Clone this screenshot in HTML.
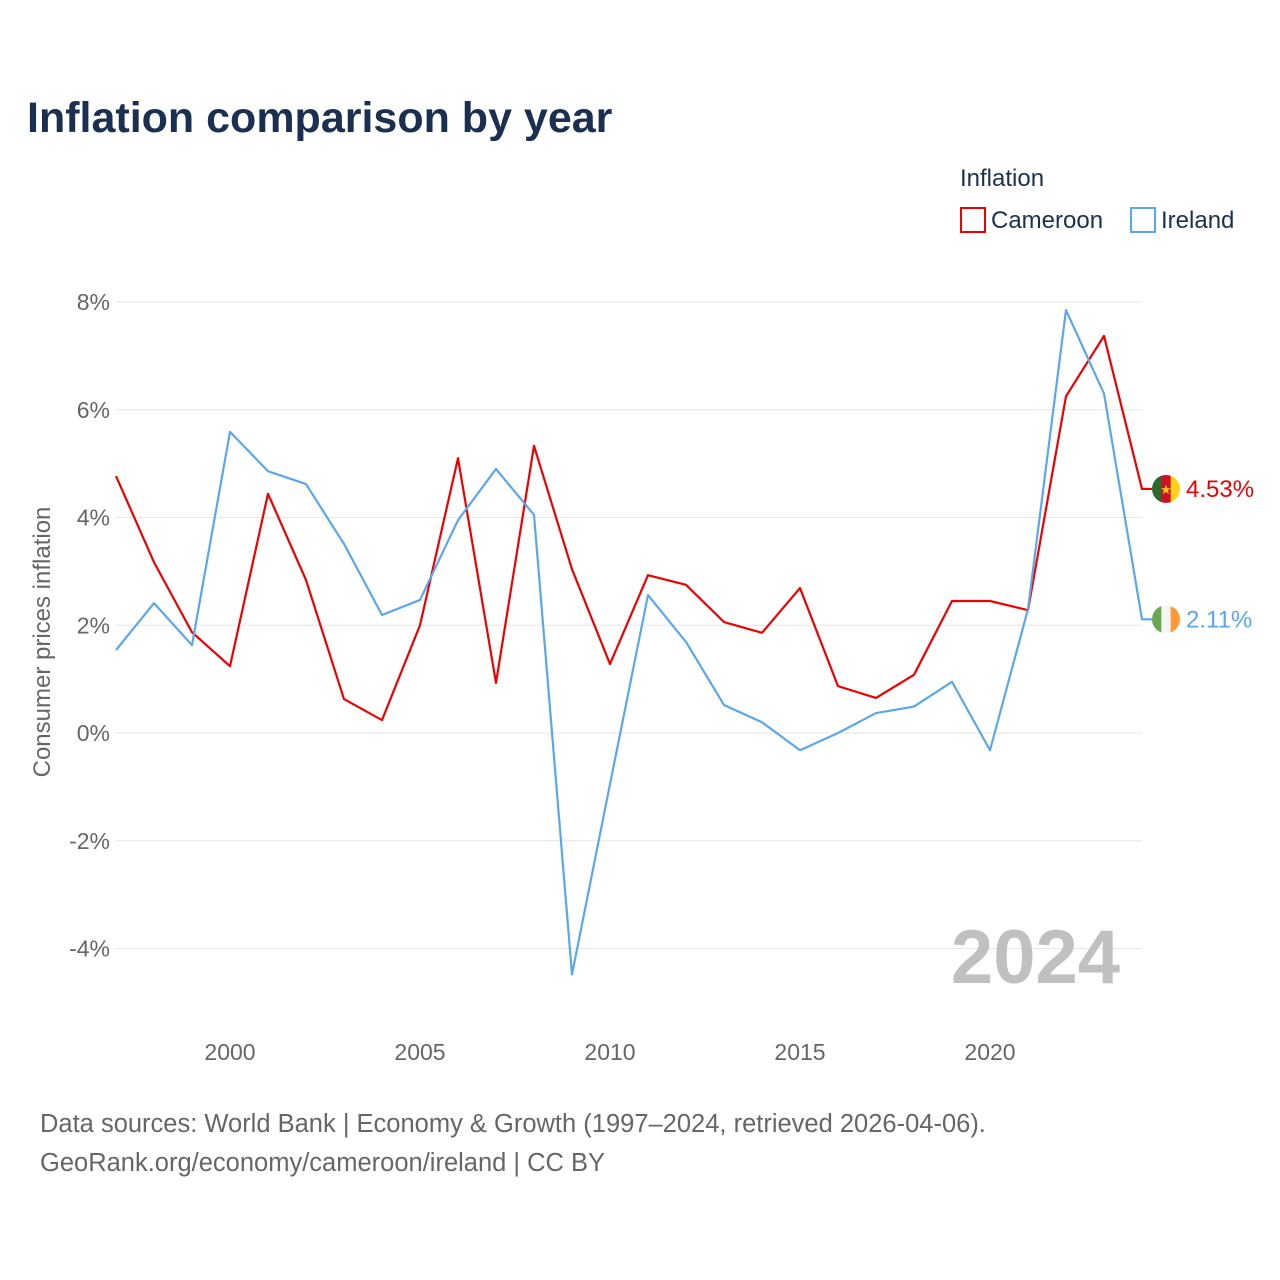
<!DOCTYPE html>
<html><head><meta charset="utf-8"><style>
body{margin:0;background:#fff;font-family:"Liberation Sans",sans-serif;}
svg{display:block}
</style></head><body>
<svg id="chart" width="1280" height="1280" xmlns="http://www.w3.org/2000/svg">
<text x="27" y="132" font-size="43" font-weight="bold" fill="#1b3050">Inflation comparison by year</text>
<text x="960" y="186" font-size="24" fill="#1b3050">Inflation</text>
<g><rect x="961" y="208" width="24" height="24" fill="none" stroke="#ee0000" stroke-width="2"/><text x="991" y="228" font-size="24" fill="#1b3050">Cameroon</text></g>
<g><rect x="1131" y="208" width="24" height="24" fill="none" stroke="#5aa7ea" stroke-width="2"/><text x="1161" y="228" font-size="24" fill="#1b3050">Ireland</text></g>
<g id="grid"></g><g id="yt"></g><g id="xt"></g>
<text transform="translate(50,642) rotate(-90)" text-anchor="middle" font-size="24" fill="#666">Consumer prices inflation</text>
<text x="1120" y="983" text-anchor="end" font-size="76" font-weight="bold" fill="#c0c0c0">2024</text>
<g id="series"></g>
<text x="40" y="1132" font-size="25.5" fill="#666">Data sources: World Bank | Economy &amp; Growth (1997–2024, retrieved 2026-04-06).</text>
<text x="40" y="1171" font-size="25.5" fill="#666">GeoRank.org/economy/cameroon/ireland | CC BY</text>
</svg>
<script>
const years=[1997,1998,1999,2000,2001,2002,2003,2004,2005,2006,2007,2008,2009,2010,2011,2012,2013,2014,2015,2016,2017,2018,2019,2020,2021,2022,2023,2024];
const cameroon=[4.77,3.17,1.87,1.24,4.44,2.84,0.63,0.24,2.0,5.1,0.93,5.33,3.04,1.28,2.93,2.75,2.06,1.86,2.69,0.87,0.65,1.08,2.45,2.45,2.28,6.25,7.37,4.53];
const ireland=[1.54,2.41,1.63,5.59,4.86,4.62,3.51,2.19,2.47,3.95,4.9,4.05,-4.48,-0.95,2.56,1.69,0.52,0.2,-0.32,0.0,0.37,0.49,0.95,-0.32,2.3,7.85,6.3,2.11];
const yTicks=[-4,-2,0,2,4,6,8];
const xTicks=[2000,2005,2010,2015,2020];
const NS="http://www.w3.org/2000/svg";
const X=y=>116+(y-1997)*38, Y=v=>733-v*53.875;
function el(t,a,p){const e=document.createElementNS(NS,t);for(const k in a)e.setAttribute(k,a[k]);p.appendChild(e);return e;}
const grid=document.getElementById('grid'),yt=document.getElementById('yt'),xt=document.getElementById('xt'),ser=document.getElementById('series');
yTicks.forEach(v=>{
 const l=el('line',{x1:116,x2:1142,y1:Y(v),y2:Y(v),stroke:'#e6e6e6','stroke-width':1},grid);
 
 
 const t=el('text',{x:110,y:Y(v)+8,'text-anchor':'end','font-size':23,fill:'#666'},yt);t.textContent=v+'%';
 
 
});
xTicks.forEach(v=>{
 const t=el('text',{x:X(v),y:1060,'text-anchor':'middle','font-size':23,fill:'#666'},xt);t.textContent=v;
 
 
});
function draw(vals,color,name,flag){
 let d=vals.map((v,i)=>(i?'L':'M')+X(years[i])+' '+Y(v)).join(' ');
 const last=vals[vals.length-1];
 d+=' L1152 '+Y(last);
 const p=el('path',{d:d,fill:'none',stroke:color,'stroke-width':2.2,'stroke-linejoin':'round'},ser);
 
 
 const g=el('g',{},ser);
 
 
 const cy=Y(last),cx=1166;
 const cp=el('clipPath',{id:'c'+name},g);
 el('circle',{cx:cx,cy:cy,r:14},cp);
 flag.forEach((c,i)=>el('rect',{x:cx-14+i*28/3,y:cy-14,width:28/3+0.5,height:28,fill:c,'clip-path':'url(#c'+name+')'},g));
 if(name==='cameroon'){const s=el('text',{x:cx,y:cy+5,'text-anchor':'middle','font-size':13,fill:'#fcd116'},g);s.textContent='★';}
 const t=el('text',{x:1186,y:cy+8,'font-size':24,fill:color},ser);t.textContent=last.toFixed(2)+'%';
 
 
}
draw(cameroon,'#ee0000','cameroon',['#2d6a2d','#ce1126','#fcd116']);
draw(ireland,'#5aa7ea','ireland',['#6aa84f','#f5f5f5','#ff9933']);
</script>
</body></html>
